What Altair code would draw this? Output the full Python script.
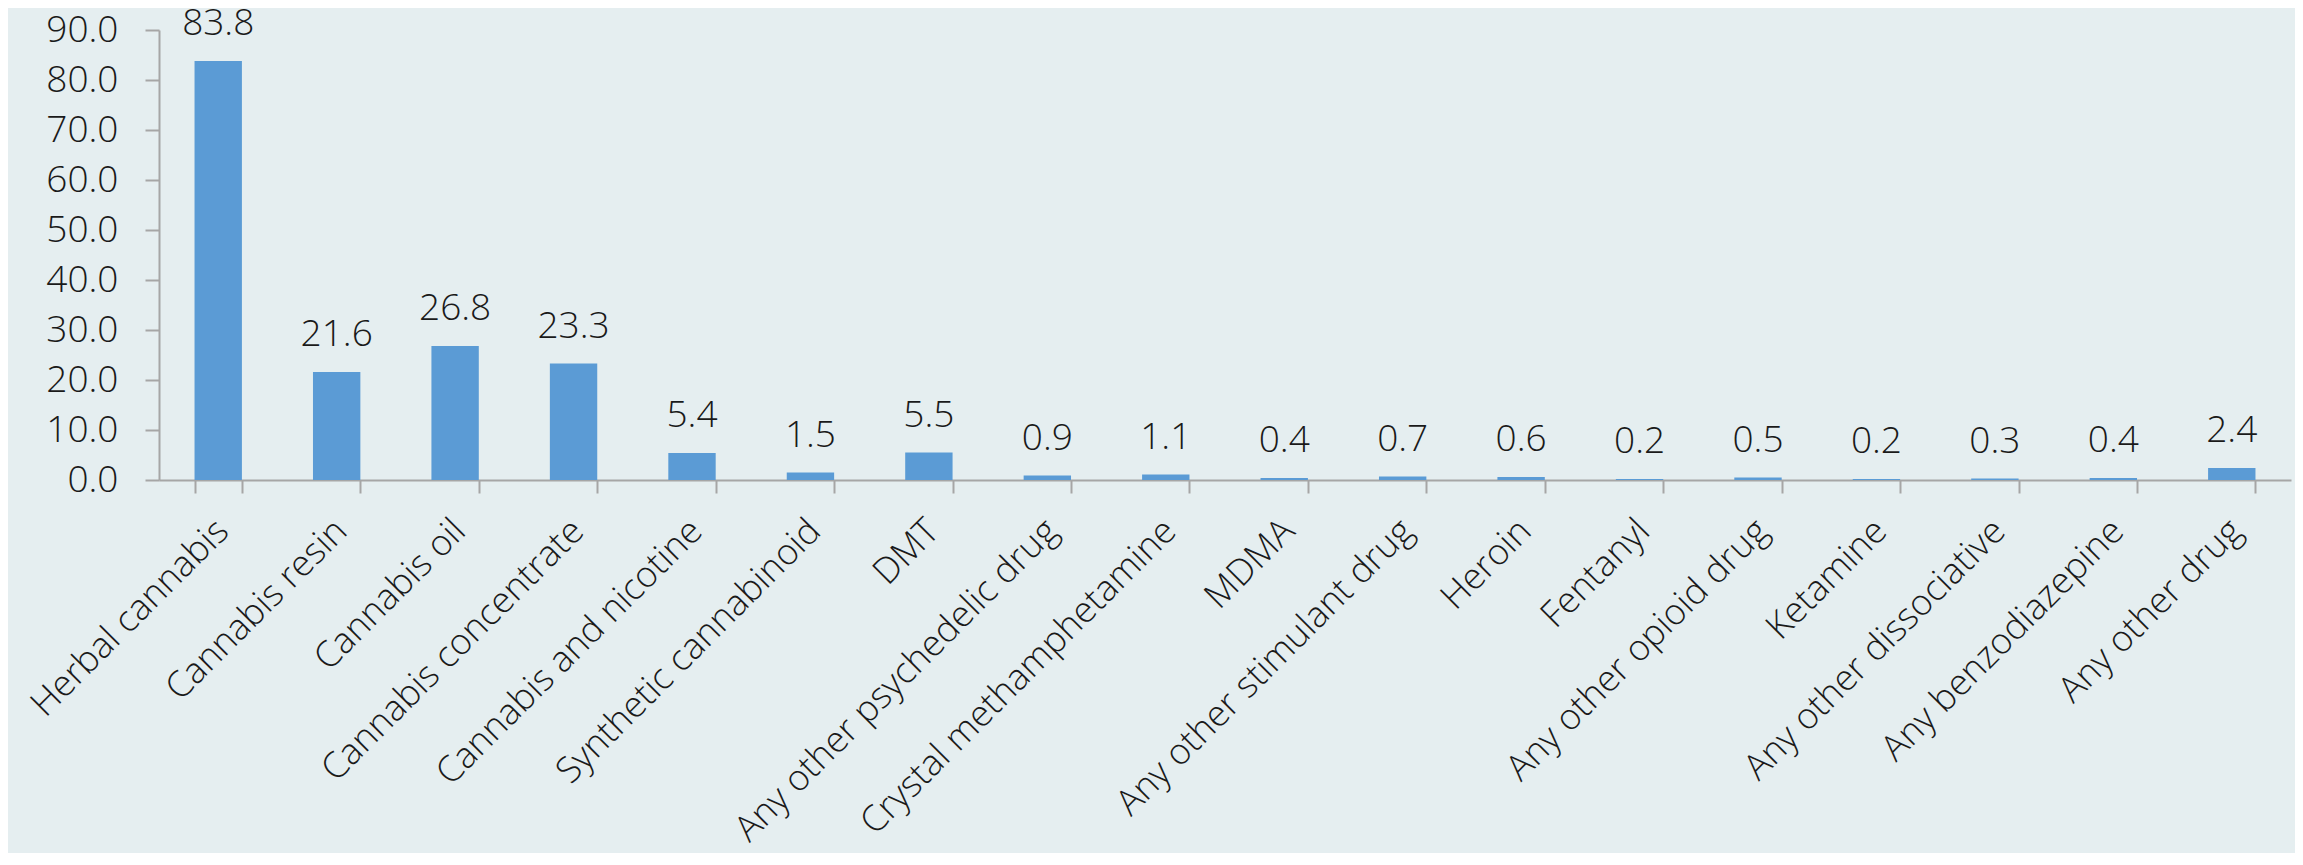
import altair as alt
import pandas as pd

categories = [
    "Herbal cannabis", "Cannabis resin", "Cannabis oil", "Cannabis concentrate",
    "Cannabis and nicotine", "Synthetic cannabinoid", "DMT",
    "Any other psychedelic drug", "Crystal methamphetamine", "MDMA",
    "Any other stimulant drug", "Heroin", "Fentanyl", "Any other opioid drug",
    "Ketamine", "Any other dissociative", "Any benzodiazepine", "Any other drug",
]
values = [83.8, 21.6, 26.8, 23.3, 5.4, 1.5, 5.5, 0.9, 1.1, 0.4, 0.7, 0.6,
          0.2, 0.5, 0.2, 0.3, 0.4, 2.4]
y_ticks = [0, 10, 20, 30, 40, 50, 60, 70, 80, 90]

df = pd.DataFrame({"drug": categories, "pct": values})

FONT = "Open Sans"
TXT = "#1a1a1a"
AXC = "#a6a6a6"

x_enc = alt.X(
    "drug:N",
    sort=categories,
    scale=alt.Scale(paddingInner=0.6, paddingOuter=0.3),
    axis=alt.Axis(
        title=None,
        labelAngle=315,
        labelAlign="right",
        labelBaseline="middle",
        labelFont=FONT,
        labelFontWeight=300,
        labelFontSize=36,
        labelColor=TXT,
        labelPadding=32,
        labelOffset=4,
        labelLimit=1000,
        tickBand="extent",
        tickSize=13,
        tickWidth=2,
        tickColor=AXC,
        domainColor=AXC,
        domainWidth=2,
        grid=False,
    ),
)

y_enc = alt.Y(
    "pct:Q",
    scale=alt.Scale(domain=[0, 90], nice=False),
    axis=alt.Axis(
        title=None,
        values=y_ticks,
        format=".1f",
        labelFont=FONT,
        labelFontWeight=300,
        labelFontSize=37,
        labelColor=TXT,
        labelPadding=27,
        tickSize=14,
        tickWidth=2,
        tickColor=AXC,
        domainColor=AXC,
        domainWidth=2,
        grid=False,
    ),
)

base = alt.Chart(df).encode(x=x_enc, y=y_enc)

bars = base.mark_bar(color="#5b9bd5")

labels = base.mark_text(
    font=FONT,
    fontWeight=300,
    fontSize=37,
    color=TXT,
    baseline="alphabetic",
    align="center",
    dy=-26,
).encode(text=alt.Text("pct:Q", format=".1f"))

chart = (
    alt.layer(bars, labels)
    .properties(
        width=2132,
        height=450,
        background="#e5eef0",
        padding={"left": 151, "top": 22, "right": 4, "bottom": 373},
        autosize=alt.AutoSizeParams(type="none"),
    )
    .configure_view(stroke=None)
)

chart.save("out.html", embed_options={"renderer": "svg", "actions": False})
